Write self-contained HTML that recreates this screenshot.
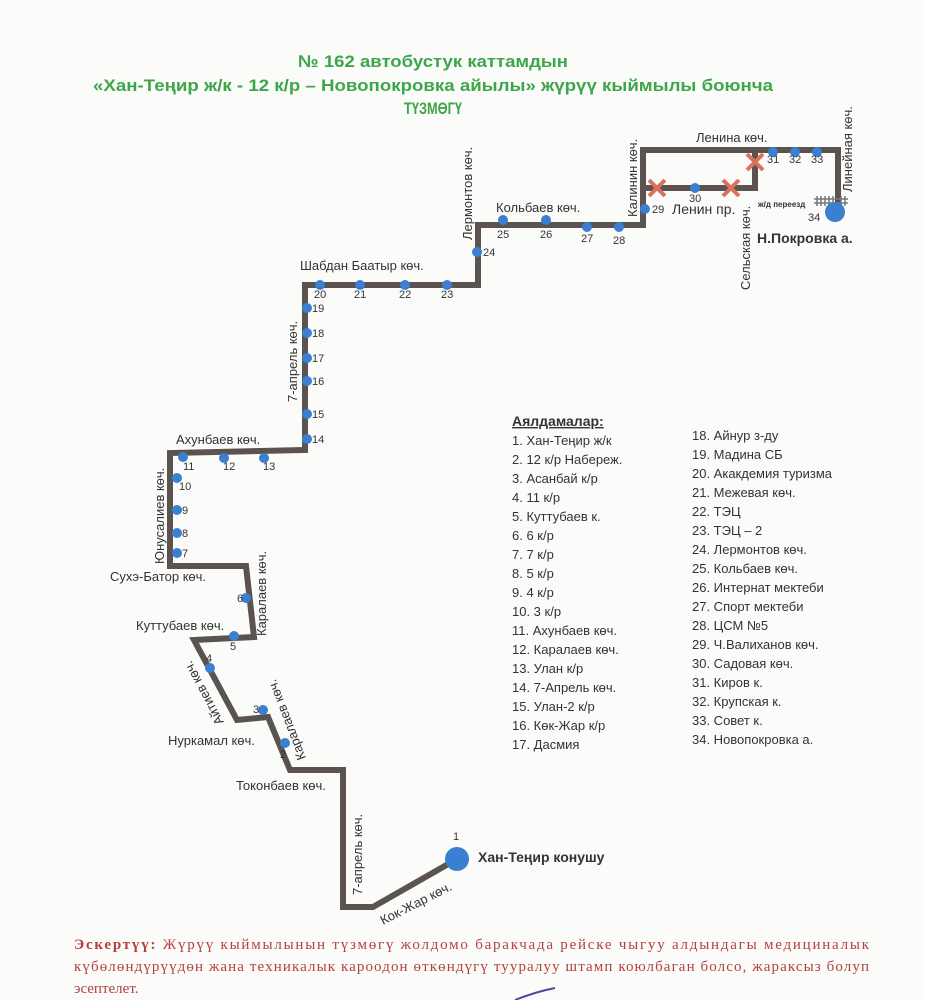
<!DOCTYPE html>
<html><head><meta charset="utf-8"><style>
html,body{margin:0;padding:0;background:#fbfbfa;}
svg{display:block;font-family:"Liberation Sans",sans-serif;}
</style></head><body>
<svg width="925" height="1000" viewBox="0 0 925 1000" xmlns="http://www.w3.org/2000/svg">
<rect width="925" height="1000" fill="#fbfbfa"/>
<g fill="#3ea64a" font-weight="bold" font-size="17" text-anchor="middle">
<text x="433" y="67" textLength="270" lengthAdjust="spacingAndGlyphs">№ 162  автобустук каттамдын</text>
<text x="433" y="91" textLength="680" lengthAdjust="spacingAndGlyphs">«Хан-Теңир ж/к - 12 к/р – Новопокровка айылы» жүрүү кыймылы боюнча</text>
<text x="433" y="114" textLength="58" lengthAdjust="spacingAndGlyphs">ТҮЗМӨГҮ</text>
</g>
<g fill="none" stroke="#5a5350" stroke-width="6" stroke-linejoin="miter">
<polyline points="457,859 373,907 343,907 343,770 290,770 268,717 237,720 194,640 254,637 246,566 170,566 170,453 305,450 305,285 478,285 478,225 643,225 643,150 838,150 838,210"/>
<polyline points="643,188 755,188 755,150"/>
</g>
<g stroke="#d9735f" stroke-width="4">
<path d="M649,180 l16,16 M665,180 l-16,16 M723,180 l16,16 M739,180 l-16,16 M747,154 l16,16 M763,154 l-16,16"/>
</g>
<g stroke="#777" stroke-width="1.5">
<path d="M814,199 h34 M814,203 h34 M817,196 v10 M821,196 v10 M825,196 v10 M829,196 v10 M833,196 v10 M841,196 v10 M845,196 v10"/>
</g>
<g fill="#3b7fd0">
<circle cx="457" cy="859" r="12"/>
<circle cx="835" cy="212" r="10"/>
<circle cx="285" cy="743" r="5"/><circle cx="263" cy="710" r="5"/><circle cx="210" cy="668" r="5"/>
<circle cx="234" cy="636" r="5"/><circle cx="246" cy="598" r="5"/>
<circle cx="177" cy="553" r="5"/><circle cx="177" cy="533" r="5"/><circle cx="177" cy="510" r="5"/><circle cx="177" cy="478" r="5"/>
<circle cx="183" cy="457" r="5"/><circle cx="224" cy="458" r="5"/><circle cx="264" cy="458" r="5"/>
<circle cx="307" cy="439" r="5"/><circle cx="307" cy="414" r="5"/><circle cx="307" cy="381" r="5"/><circle cx="307" cy="358" r="5"/><circle cx="307" cy="333" r="5"/><circle cx="307" cy="308" r="5"/>
<circle cx="320" cy="285" r="5"/><circle cx="360" cy="285" r="5"/><circle cx="405" cy="285" r="5"/><circle cx="447" cy="285" r="5"/>
<circle cx="477" cy="252" r="5"/><circle cx="503" cy="220" r="5"/><circle cx="546" cy="220" r="5"/><circle cx="587" cy="227" r="5"/><circle cx="619" cy="227" r="5"/>
<circle cx="645" cy="209" r="5"/><circle cx="695" cy="188" r="5"/>
<circle cx="773" cy="152" r="5"/><circle cx="795" cy="152" r="5"/><circle cx="817" cy="152" r="5"/>
</g>
<g fill="#333" font-size="11">
<text x="453" y="840">1</text><text x="280" y="758">2</text><text x="253" y="713">3</text><text x="206" y="662">4</text>
<text x="230" y="650">5</text><text x="237" y="602">6</text>
<text x="182" y="557">7</text><text x="182" y="537">8</text><text x="182" y="514">9</text><text x="179" y="490">10</text>
<text x="183" y="470">11</text><text x="223" y="470">12</text><text x="263" y="470">13</text>
<text x="312" y="443">14</text><text x="312" y="418">15</text><text x="312" y="385">16</text><text x="312" y="362">17</text><text x="312" y="337">18</text><text x="312" y="312">19</text>
<text x="314" y="298">20</text><text x="354" y="298">21</text><text x="399" y="298">22</text><text x="441" y="298">23</text>
<text x="483" y="256">24</text><text x="497" y="238">25</text><text x="540" y="238">26</text><text x="581" y="242">27</text><text x="613" y="244">28</text>
<text x="652" y="213">29</text><text x="689" y="202">30</text><text x="767" y="163">31</text><text x="789" y="163">32</text><text x="811" y="163">33</text><text x="808" y="221">34</text>
</g>
<g fill="#333" font-size="13">
<text x="478" y="862" font-weight="bold" font-size="14">Хан-Теңир конушу</text>
<text x="236" y="790">Токонбаев көч.</text>
<text x="168" y="745">Нуркамал көч.</text>
<text x="136" y="630">Куттубаев көч.</text>
<text x="110" y="581">Сухэ-Батор көч.</text>
<text x="176" y="444">Ахунбаев көч.</text>
<text x="300" y="270">Шабдан Баатыр көч.</text>
<text x="496" y="212">Кольбаев көч.</text>
<text x="672" y="214" font-size="14">Ленин пр.</text>
<text x="696" y="142">Ленина көч.</text>
<text x="757" y="243" font-weight="bold" font-size="14">Н.Покровка а.</text>
<text x="758" y="207" font-size="8" font-weight="bold">ж/д переезд</text>
<text transform="translate(362,895) rotate(-90)">7-апрель көч.</text>
<text transform="translate(383,925) rotate(-27)">Кок-Жар көч.</text>
<text transform="translate(297,402) rotate(-90)">7-апрель көч.</text>
<text transform="translate(164,564) rotate(-90)">Юнусалиев көч.</text>
<text transform="translate(266,636) rotate(-90)">Каралаев көч.</text>
<text transform="translate(224,722) rotate(-118)">Айтиев көч.</text>
<text transform="translate(306,758) rotate(-111)">Каралаев көч.</text>
<text transform="translate(472,240) rotate(-90)">Лермонтов көч.</text>
<text transform="translate(637,217) rotate(-90)">Калинин көч.</text>
<text transform="translate(750,290) rotate(-90)">Сельская көч.</text>
<text transform="translate(852,192) rotate(-90)">Линейная көч.</text>
</g>
<g fill="#333" font-size="13">
<text x="512" y="426" font-weight="bold" text-decoration="underline" font-size="14">Аялдамалар:</text>
<text x="512" y="445">1. Хан-Теңир ж/к</text>
<text x="512" y="464">2. 12 к/р Набереж.</text>
<text x="512" y="483">3. Асанбай к/р</text>
<text x="512" y="502">4. 11 к/р</text>
<text x="512" y="521">5. Куттубаев к.</text>
<text x="512" y="540">6. 6 к/р</text>
<text x="512" y="559">7. 7 к/р</text>
<text x="512" y="578">8. 5 к/р</text>
<text x="512" y="597">9. 4 к/р</text>
<text x="512" y="616">10. 3 к/р</text>
<text x="512" y="635">11. Ахунбаев көч.</text>
<text x="512" y="654">12. Каралаев көч.</text>
<text x="512" y="673">13. Улан к/р</text>
<text x="512" y="692">14. 7-Апрель көч.</text>
<text x="512" y="711">15. Улан-2 к/р</text>
<text x="512" y="730">16. Көк-Жар к/р</text>
<text x="512" y="749">17. Дасмия</text>
<text x="692" y="440">18. Айнур з-ду</text>
<text x="692" y="459">19. Мадина СБ</text>
<text x="692" y="478">20. Акакдемия туризма</text>
<text x="692" y="497">21. Межевая көч.</text>
<text x="692" y="516">22. ТЭЦ</text>
<text x="692" y="535">23. ТЭЦ – 2</text>
<text x="692" y="554">24. Лермонтов көч.</text>
<text x="692" y="573">25. Кольбаев көч.</text>
<text x="692" y="592">26. Интернат мектеби</text>
<text x="692" y="611">27. Спорт мектеби</text>
<text x="692" y="630">28. ЦСМ №5</text>
<text x="692" y="649">29. Ч.Валиханов көч.</text>
<text x="692" y="668">30. Садовая көч.</text>
<text x="692" y="687">31. Киров к.</text>
<text x="692" y="706">32. Крупская к.</text>
<text x="692" y="725">33. Совет к.</text>
<text x="692" y="744">34. Новопокровка а.</text>
</g>
<g fill="#b5403f" font-family="Liberation Serif, serif" font-size="15">
<text x="74" y="949" textLength="795" lengthAdjust="spacing"><tspan font-weight="bold">Эскертүү:</tspan> Жүрүү кыймылынын түзмөгү жолдомо баракчада рейске чыгуу алдындагы медициналык</text>
<text x="74" y="971" textLength="795" lengthAdjust="spacing">күбөлөндүрүүдөн жана техникалык кароодон өткөндүгү тууралуу штамп коюлбаган болсо, жараксыз болуп</text>
<text x="74" y="993">эсептелет.</text>
</g>
<path d="M515,1000 q20,-8 40,-12" stroke="#4a4aa0" stroke-width="2" fill="none"/>
</svg>
</body></html>
